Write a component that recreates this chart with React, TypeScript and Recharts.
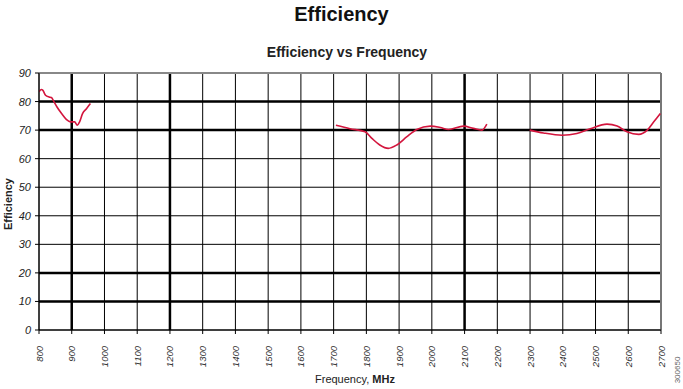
import React from 'react';
import {
  LineChart,
  Line,
  XAxis,
  YAxis,
  CartesianGrid,
  ReferenceLine,
} from 'recharts';

// values
const lowBandFreq = [800, 807, 812, 820, 831, 838, 846, 855, 869, 884, 896, 909, 917, 924, 933, 945, 957];
const lowBandEff = [83.4, 84.2, 83.9, 82.2, 81.6, 81.4, 79.9, 78.1, 75.8, 73.7, 72.9, 72.9, 71.7, 72.9, 75.8, 77.5, 79.3];

const midBandFreq = [1707, 1750, 1796, 1817, 1841, 1867, 1893, 1924, 1954, 1995, 2026, 2051, 2097, 2127, 2153, 2168];
const midBandEff = [71.7, 70.5, 69.4, 67.1, 64.8, 63.6, 64.8, 67.7, 70.2, 71.4, 70.9, 70.2, 71.4, 70.6, 70.0, 72.1];

const highBandFreq = [2299, 2341, 2398, 2443, 2484, 2535, 2566, 2596, 2632, 2658, 2678, 2698];
const highBandEff = [70.0, 69.0, 68.2, 68.8, 70.5, 72.1, 71.4, 69.4, 68.5, 70.0, 72.9, 75.8];

const freqTicks = [800, 900, 1000, 1100, 1200, 1300, 1400, 1500, 1600, 1700, 1800, 1900, 2000, 2100, 2200, 2300, 2400, 2500, 2600, 2700];
const effTicks = [0, 10, 20, 30, 40, 50, 60, 70, 80, 90];
const thickFreqLines = [900, 1200, 2100];
const thickEffLines = [10, 20, 70, 80];

const toPoints = (freq: number[], eff: number[]) => freq.map((f, i) => ({ f, eff: eff[i] }));

const lowBand = toPoints(lowBandFreq, lowBandEff);
const midBand = toPoints(midBandFreq, midBandEff);
const highBand = toPoints(highBandFreq, highBandEff);

const FONT = 'Arial, "Liberation Sans", sans-serif';
const RED = '#d3153d';

const FreqTick = (props: any) => {
  const { x, y, payload } = props;
  const ty = y + 10;
  return (
    <text
      x={x}
      y={ty}
      transform={`rotate(-90, ${x}, ${ty})`}
      textAnchor="end"
      dominantBaseline="central"
      fontSize={9.5}
      fontStyle="italic"
      fontFamily={FONT}
      fill="#333"
    >
      {payload.value}
    </text>
  );
};

const EffTick = (props: any) => {
  const { x, y, payload } = props;
  return (
    <text
      x={x - 2}
      y={y}
      textAnchor="end"
      dominantBaseline="central"
      fontSize={11}
      fontStyle="italic"
      fontFamily={FONT}
      fill="#222"
    >
      {payload.value}
    </text>
  );
};

export default function App() {
  return (
    <div style={{ position: 'absolute', left: 0, top: 0, width: 683, height: 389, background: '#fff', fontFamily: FONT }}>
      <LineChart
        width={683}
        height={389}
        margin={{ top: 73, right: 22, left: 0, bottom: 0 }}
      >
        <CartesianGrid stroke="#000" strokeWidth={1} />
        <XAxis
          type="number"
          dataKey="f"
          domain={[800, 2700]}
          ticks={freqTicks}
          interval={0}
          height={59}
          tick={<FreqTick />}
          tickSize={4}
          stroke="#000"
          allowDataOverflow
        />
        <YAxis
          type="number"
          domain={[0, 90]}
          ticks={effTicks}
          interval={0}
          width={39}
          tick={<EffTick />}
          tickSize={4}
          stroke="#000"
        />
        {thickEffLines.map((v) => (
          <ReferenceLine key={`y${v}`} y={v} stroke="#000" strokeWidth={2.5} />
        ))}
        {thickFreqLines.map((v) => (
          <ReferenceLine key={`x${v}`} x={v} stroke="#000" strokeWidth={2.5} />
        ))}
        <ReferenceLine y={90} stroke="#888" strokeWidth={2} />
        <ReferenceLine x={2700} stroke="#777" strokeWidth={2} />
        <Line data={lowBand} dataKey="eff" type="monotone" stroke={RED} strokeWidth={1.6} dot={false} isAnimationActive={false} />
        <Line data={midBand} dataKey="eff" type="monotone" stroke={RED} strokeWidth={1.6} dot={false} isAnimationActive={false} />
        <Line data={highBand} dataKey="eff" type="monotone" stroke={RED} strokeWidth={1.6} dot={false} isAnimationActive={false} />
      </LineChart>

      <div style={{ position: 'absolute', left: 0, width: 683, top: 3, textAlign: 'center', fontSize: 20, fontWeight: 'bold', color: '#111' }}>
        Efficiency
      </div>
      <div style={{ position: 'absolute', left: 0, width: 694, top: 44, textAlign: 'center', fontSize: 14, fontWeight: 'bold', color: '#222' }}>
        Efficiency vs Frequency
      </div>
      <div style={{ position: 'absolute', left: 315, top: 373, fontSize: 11, color: '#222' }}>
        Frequency, <b>MHz</b>
      </div>
      <div
        style={{
          position: 'absolute',
          left: 8,
          top: 204,
          transform: 'translate(-50%, -50%) rotate(-90deg)',
          fontSize: 11,
          fontWeight: 'bold',
          color: '#222',
          whiteSpace: 'nowrap',
        }}
      >
        Efficiency
      </div>
      <div
        style={{
          position: 'absolute',
          left: 677,
          top: 370,
          transform: 'translate(-50%, -50%) rotate(-90deg)',
          fontSize: 8,
          color: '#666',
          whiteSpace: 'nowrap',
        }}
      >
        300650
      </div>
    </div>
  );
}
